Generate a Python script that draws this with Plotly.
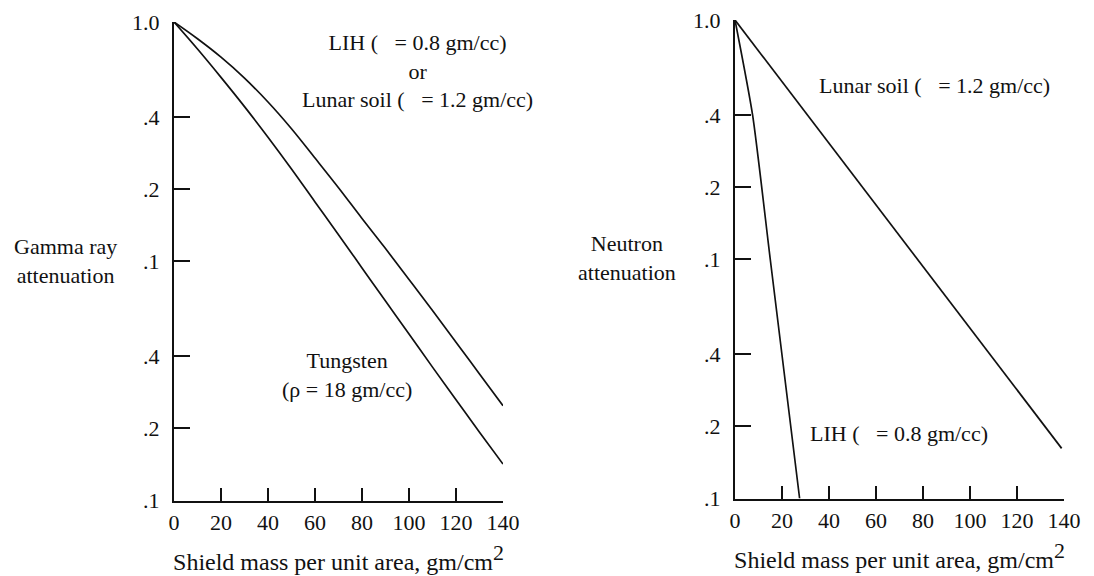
import plotly.graph_objects as go

# ---------------- data ----------------
gamma_x = [0, 10, 20, 30, 40, 50, 60, 70, 80, 90, 100, 110, 120, 130, 140]
lih_soil_gamma = [1.0, 0.851, 0.713, 0.583, 0.463, 0.358, 0.270, 0.203,
                  0.151, 0.113, 0.0839, 0.0622, 0.0459, 0.0338, 0.0249]
tungsten_gamma = [1.0, 0.771, 0.587, 0.443, 0.330, 0.243, 0.177, 0.129,
                  0.0938, 0.0682, 0.0497, 0.0361, 0.0264, 0.0193, 0.0142]

soil_neutron_x = [0, 139]
soil_neutron = [1.0, 0.0162]
lih_neutron_x = [0, 7.5, 15, 27.5]
lih_neutron = [1.0, 0.40, 0.10, 0.010]

x_ticks = [0, 20, 40, 60, 80, 100, 120, 140]
y_tickvals = [1.0, 0.4, 0.2, 0.1, 0.04, 0.02, 0.01]
y_ticktext = ["1.0", ".4", ".2", ".1", ".4", ".2", ".1"]

# ---------------- figure ----------------
W, H = 1094, 576
OFF = 8  # page body margin of the browser
FONT = "Liberation Serif"
FS = 22
INK = "#111111"


def px(x):
    return (x - OFF) / W


def py(y):
    return 1 - (y - OFF) / H


fig = go.Figure()
line_style = dict(color=INK, width=1.7)
fig.add_trace(go.Scatter(x=gamma_x, y=lih_soil_gamma, mode="lines", line=line_style,
                         xaxis="x", yaxis="y", showlegend=False, line_shape="spline"))
fig.add_trace(go.Scatter(x=gamma_x, y=tungsten_gamma, mode="lines", line=line_style,
                         xaxis="x", yaxis="y", showlegend=False, line_shape="spline"))
fig.add_trace(go.Scatter(x=soil_neutron_x, y=soil_neutron, mode="lines", line=line_style,
                         xaxis="x2", yaxis="y2", showlegend=False))
fig.add_trace(go.Scatter(x=lih_neutron_x, y=lih_neutron, mode="lines",
                         line=dict(color=INK, width=1.7, shape="spline", smoothing=0.6),
                         xaxis="x2", yaxis="y2", showlegend=False))

xtitle = "Shield mass per unit area, gm/cm<sup><span style='font-size:22px'>2</span></sup>"

common_x = dict(range=[0, 140], tickvals=x_ticks, ticks="inside", ticklen=13, tickwidth=2,
                tickcolor=INK, showline=True, linewidth=2, linecolor=INK, showgrid=False,
                zeroline=False, tickfont=dict(family=FONT, size=FS, color=INK),
                ticklabelstandoff=1, automargin=False, ticklabeloverflow="allow",
                title=dict(text=xtitle, font=dict(family=FONT, size=24, color=INK), standoff=19))
common_y = dict(type="log", range=[-2, 0], tickvals=y_tickvals, ticktext=y_ticktext,
                ticks="inside", ticklen=16, tickwidth=2, tickcolor=INK, showline=True,
                linewidth=2, linecolor=INK, showgrid=False, zeroline=False, automargin=False,
                ticklabeloverflow="allow",
                tickfont=dict(family=FONT, size=FS, color=INK), ticklabelstandoff=8)

fig.update_layout(
    width=W, height=H,
    margin=dict(l=0, r=0, t=0, b=0, autoexpand=False),
    paper_bgcolor="white", plot_bgcolor="white",
    font=dict(family=FONT, size=FS, color=INK),
    xaxis=dict(domain=[px(174), px(503)], anchor="y", **common_x),
    yaxis=dict(domain=[py(500.5), py(22)], anchor="x", **common_y),
    xaxis2=dict(domain=[px(735), px(1064)], anchor="y2", **common_x),
    yaxis2=dict(domain=[py(498.5), py(20)], anchor="x2", **common_y),
)

nb = "\u00a0"
ann = [
    ("Gamma ray<br>attenuation", 66, 261),
    ("LIH (" + nb * 3 + "= 0.8 gm/cc)<br>or<br>Lunar soil (" + nb * 3 + "= 1.2 gm/cc)", 417, 71),
    ("Tungsten<br>(\u03c1 = 18 gm/cc)", 347, 375),
    ("Neutron<br>attenuation", 627, 258),
    ("Lunar soil (" + nb * 3 + "= 1.2 gm/cc)", 934, 85),
    ("LIH (" + nb * 3 + "= 0.8 gm/cc)", 899, 433),
]
for text, x, y in ann:
    fig.add_annotation(text=text, x=px(x), y=py(y), xref="paper", yref="paper",
                       showarrow=False, xanchor="center", yanchor="middle", align="center",
                       font=dict(family=FONT, size=FS, color=INK))

fig.write_html("out.html")
